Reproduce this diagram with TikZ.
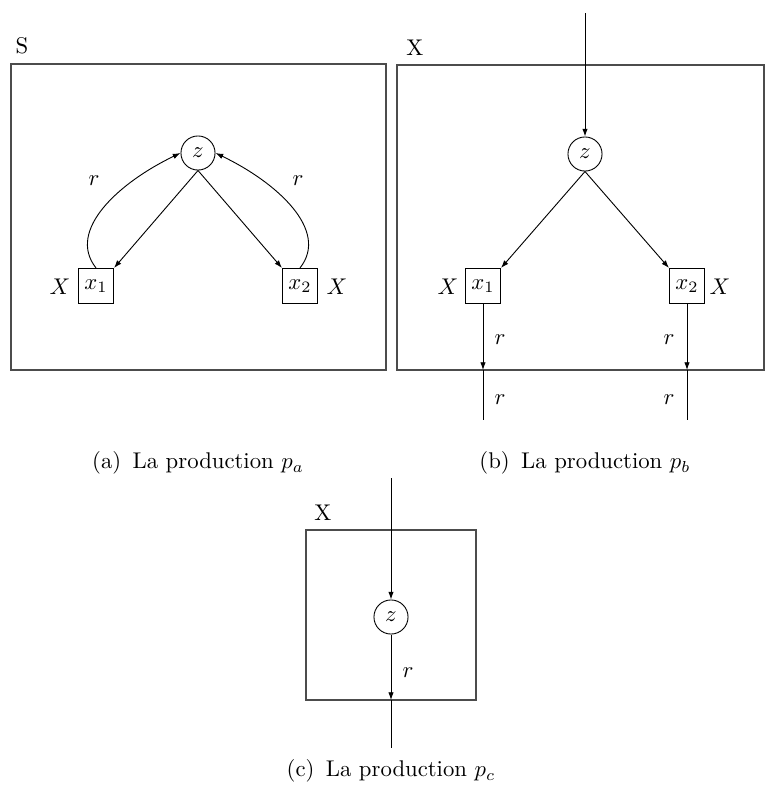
\documentclass[tikz,border=0pt]{standalone}
\usetikzlibrary{arrows.meta}
\tikzset{
  cnode/.style={circle,draw,line width=0.4pt,minimum size=15pt,inner sep=0pt},
  sqnode/.style={rectangle,draw,line width=0.5pt,minimum size=15.4pt,inner sep=0pt},
  frame/.style={draw,line width=0.55pt,black!70},
  arr/.style={-{Latex[length=3.4pt,width=2.4pt]},line width=0.4pt},
  plain/.style={line width=0.4pt},
  lbl/.style={inner sep=0pt}
}
\begin{document}
\begin{tikzpicture}[x=0.44pt,y=-0.44pt]
\useasboundingbox (0,0) rectangle (764,788);
% ---------- panel a ----------
\draw[frame] (11,64) rectangle (386,370);
\node[lbl] (Sa) at (22,46) {S};
\node[cnode] (za) at (198,153) {$z$};
\node[sqnode] (x1a) at (96,286) {$x_1$};
\node[sqnode] (x2a) at (300,286) {$x_2$};
\node[lbl] (Xa1) at (60,287) {$X$};
\node[lbl] (Xa2) at (337,287) {$X$};
\node[lbl] (ra1) at (94,181) {$r$};
\node[lbl] (ra2) at (298,181) {$r$};
\draw[arr] (za.south) -- (x1a.north east);
\draw[arr] (za.south) -- (x2a.north west);
\draw[arr] (x1a.north) .. controls (66,230) and (120,182) .. (za.west);
\draw[arr] (x2a.north) .. controls (330,230) and (276,182) .. (za.east);
\node (capa) at (198,463) {(a)\enspace La production $p_a$};
% ---------- panel b ----------
\draw[frame] (397,65) rectangle (764,370);
\node[lbl] (Xb) at (415,48) {X};
\coordinate (tb) at (585,13);
\node[cnode] (zb) at (585,154) {$z$};
\node[sqnode] (x1b) at (483,286) {$x_1$};
\node[sqnode] (x2b) at (687,286) {$x_2$};
\node[lbl] (Xb1) at (448,287) {$X$};
\node[lbl] (Xb2) at (720,287) {$X$};
\coordinate (b1) at (483,370);
\coordinate (b1e) at (483,420);
\coordinate (b2) at (687,370);
\coordinate (b2e) at (687,420);
\draw[arr] (tb) -- (zb.north);
\draw[arr] (zb.south) -- (x1b.north east);
\draw[arr] (zb.south) -- (x2b.north west);
\draw[arr] (x1b.south) -- (b1);
\draw[plain] (b1) -- (b1e);
\draw[arr] (x2b.south) -- (b2);
\draw[plain] (b2) -- (b2e);
\node[lbl] (rb1) at (500,340) {$r$};
\node[lbl] (rb2) at (669,340) {$r$};
\node[lbl] (rb3) at (500,400) {$r$};
\node[lbl] (rb4) at (669,400) {$r$};
\node (capb) at (585,463) {(b)\enspace La production $p_b$};
% ---------- panel c ----------
\draw[frame] (306,530) rectangle (476,700);
\node[lbl] (Xc) at (323,513) {X};
\coordinate (tc) at (391,478);
\node[cnode] (zc) at (391,617) {$z$};
\coordinate (c1) at (391,700);
\coordinate (c1e) at (391,748);
\draw[arr] (tc) -- (zc.north);
\draw[arr] (zc.south) -- (c1);
\draw[plain] (c1) -- (c1e);
\node[lbl] (rc) at (408,673) {$r$};
\node (capc) at (391,771) {(c)\enspace La production $p_c$};
\end{tikzpicture}
\end{document}
